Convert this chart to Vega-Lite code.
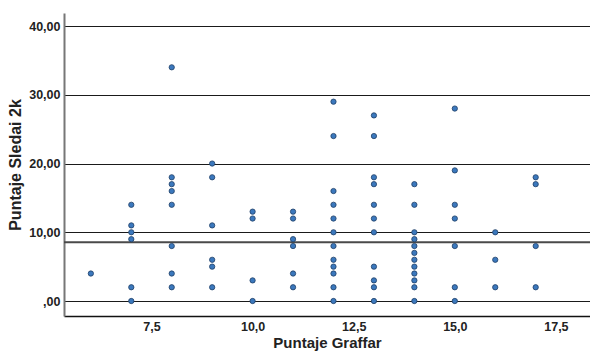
{
  "$schema": "https://vega.github.io/schema/vega-lite/v6.json",
  "width": 526,
  "height": 303,
  "autosize": "none",
  "padding": {"left": 64, "top": 13, "right": 0, "bottom": 36},
  "background": "white",
  "config": {
    "view": {"stroke": null},
    "font": "Liberation Sans"
  },
  "datasets": {
    "pts": [
      {"graffar": 6, "sledai": 4},
      {"graffar": 7, "sledai": 14}, {"graffar": 7, "sledai": 11}, {"graffar": 7, "sledai": 10}, {"graffar": 7, "sledai": 9}, {"graffar": 7, "sledai": 2}, {"graffar": 7, "sledai": 0},
      {"graffar": 8, "sledai": 34}, {"graffar": 8, "sledai": 18}, {"graffar": 8, "sledai": 17}, {"graffar": 8, "sledai": 16}, {"graffar": 8, "sledai": 14}, {"graffar": 8, "sledai": 8}, {"graffar": 8, "sledai": 4}, {"graffar": 8, "sledai": 2},
      {"graffar": 9, "sledai": 20}, {"graffar": 9, "sledai": 18}, {"graffar": 9, "sledai": 11}, {"graffar": 9, "sledai": 6}, {"graffar": 9, "sledai": 5}, {"graffar": 9, "sledai": 2},
      {"graffar": 10, "sledai": 13}, {"graffar": 10, "sledai": 12}, {"graffar": 10, "sledai": 3}, {"graffar": 10, "sledai": 0},
      {"graffar": 11, "sledai": 13}, {"graffar": 11, "sledai": 12}, {"graffar": 11, "sledai": 9}, {"graffar": 11, "sledai": 8}, {"graffar": 11, "sledai": 4}, {"graffar": 11, "sledai": 2},
      {"graffar": 12, "sledai": 29}, {"graffar": 12, "sledai": 24}, {"graffar": 12, "sledai": 16}, {"graffar": 12, "sledai": 14}, {"graffar": 12, "sledai": 12}, {"graffar": 12, "sledai": 10}, {"graffar": 12, "sledai": 8}, {"graffar": 12, "sledai": 6}, {"graffar": 12, "sledai": 5}, {"graffar": 12, "sledai": 4}, {"graffar": 12, "sledai": 2}, {"graffar": 12, "sledai": 0},
      {"graffar": 13, "sledai": 27}, {"graffar": 13, "sledai": 24}, {"graffar": 13, "sledai": 18}, {"graffar": 13, "sledai": 17}, {"graffar": 13, "sledai": 14}, {"graffar": 13, "sledai": 12}, {"graffar": 13, "sledai": 10}, {"graffar": 13, "sledai": 5}, {"graffar": 13, "sledai": 3}, {"graffar": 13, "sledai": 2}, {"graffar": 13, "sledai": 0},
      {"graffar": 14, "sledai": 17}, {"graffar": 14, "sledai": 14}, {"graffar": 14, "sledai": 10}, {"graffar": 14, "sledai": 9}, {"graffar": 14, "sledai": 8}, {"graffar": 14, "sledai": 7}, {"graffar": 14, "sledai": 6}, {"graffar": 14, "sledai": 5}, {"graffar": 14, "sledai": 4}, {"graffar": 14, "sledai": 3}, {"graffar": 14, "sledai": 2}, {"graffar": 14, "sledai": 0},
      {"graffar": 15, "sledai": 28}, {"graffar": 15, "sledai": 19}, {"graffar": 15, "sledai": 14}, {"graffar": 15, "sledai": 12}, {"graffar": 15, "sledai": 8}, {"graffar": 15, "sledai": 2}, {"graffar": 15, "sledai": 0},
      {"graffar": 16, "sledai": 10}, {"graffar": 16, "sledai": 6}, {"graffar": 16, "sledai": 2},
      {"graffar": 17, "sledai": 18}, {"graffar": 17, "sledai": 17}, {"graffar": 17, "sledai": 8}, {"graffar": 17, "sledai": 2}
    ],
    "ref": [{"mean": 8.54}]
  },
  "layer": [
    {
      "data": {"name": "ref"},
      "mark": {"type": "rule", "color": "#4a4a4a", "strokeWidth": 2},
      "encoding": {
        "y": {"field": "mean", "type": "quantitative", "scale": {"domain": [-2.18, 41.9], "nice": false, "zero": false}}
      }
    },
    {
      "data": {"name": "pts"},
      "mark": {"type": "point", "shape": "circle", "filled": true, "size": 28, "fill": "#3b78bd", "stroke": "#1f3f66", "strokeWidth": 0.8, "opacity": 1},
      "encoding": {
        "x": {
          "field": "graffar", "type": "quantitative",
          "scale": {"domain": [5.336, 18.343], "nice": false, "zero": false},
          "axis": {
            "title": "Puntaje Graffar", "titleFont": "Liberation Sans", "titleFontSize": 15, "titleFontWeight": "bold", "titleColor": "#222", "titlePadding": 3,
            "values": [7.5, 10, 12.5, 15, 17.5],
            "labelExpr": "replace(format(datum.value, '.1f'), '.', ',')",
            "labelFont": "Liberation Sans", "labelFontSize": 12.5, "labelFontWeight": "bold", "labelColor": "#222", "labelPadding": 4,
            "ticks": false, "grid": false,
            "domainColor": "#111", "domainWidth": 1.5
          }
        },
        "y": {
          "field": "sledai", "type": "quantitative",
          "scale": {"domain": [-2.18, 41.9], "nice": false, "zero": false},
          "axis": {
            "title": "Puntaje Sledai 2k", "titleFont": "Liberation Sans", "titleFontSize": 16, "titleFontWeight": "bold", "titleColor": "#222", "titlePadding": 5,
            "values": [0, 10, 20, 30, 40],
            "labelExpr": "datum.value == 0 ? ',00' : replace(format(datum.value, '.2f'), '.', ',')",
            "labelFont": "Liberation Sans", "labelFontSize": 12.5, "labelFontWeight": "bold", "labelColor": "#222", "labelPadding": 4,
            "ticks": false, "grid": true, "gridColor": "#1a1a1a", "gridWidth": 1.2,
            "domainColor": "#777", "domainWidth": 2
          }
        }
      }
    }
  ]
}
